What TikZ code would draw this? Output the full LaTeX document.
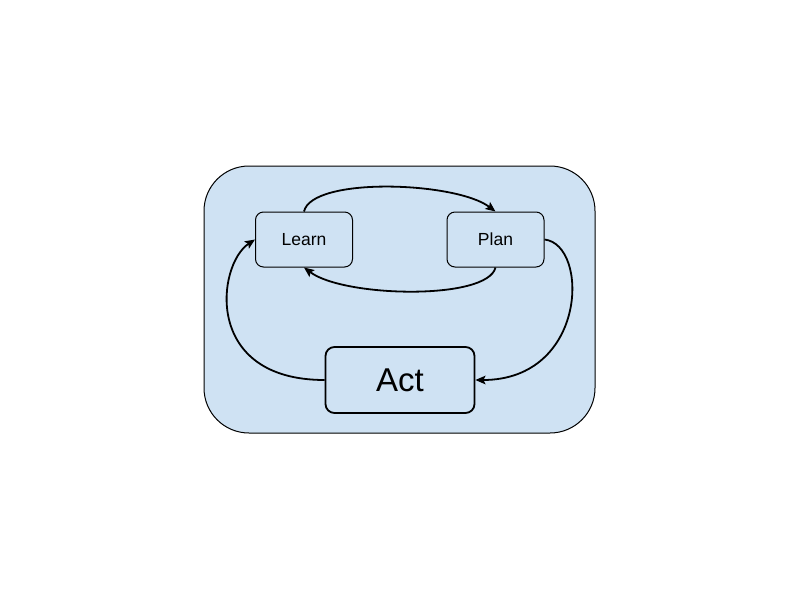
\documentclass[tikz,border=0pt]{standalone}
\usepackage{fontspec}
\setmainfont{Liberation Sans}
\usetikzlibrary{arrows.meta}
\definecolor{panelblue}{RGB}{207,226,243}
\begin{document}
\begin{tikzpicture}[x=1pt,y=-1pt,
  panel/.style={draw=black,fill=panelblue,line width=1pt,rounded corners=45pt,minimum width=391pt,minimum height=267pt,inner sep=0pt},
  smallbox/.style={draw=black,fill=panelblue,line width=1pt,rounded corners=8pt,minimum width=97pt,minimum height=55pt,inner sep=0pt,font=\fontsize{17.5}{20}\selectfont},
  bigbox/.style={draw=black,fill=panelblue,line width=1.8pt,rounded corners=9pt,minimum width=149pt,minimum height=66pt,inner sep=0pt,font=\fontsize{33}{36}\selectfont},
  flow/.style={line width=1.8pt,-{Stealth[length=10pt,width=8.5pt,inset=2pt]}}]
\useasboundingbox (0,0) rectangle (800,600);
\node[panel] (outer) at (399.5,299.5) {};
\node[smallbox] (learn) at (304,239.5) {Learn};
\node[smallbox] (plan) at (495.5,239.5) {Plan};
\node[bigbox] (act) at (400,380) {Act};
\draw[flow] (learn.north) .. controls +(8,-35) and +(-40,-30) .. (plan.north);
\draw[flow] (plan.south) .. controls +(-8,33) and +(40,30) .. (learn.south);
\draw[flow] (plan.east) .. controls +(45,5) and +(112,0) .. (act.east);
\draw[flow] (act.west) .. controls +(-122,0) and +(-38,25) .. (learn.west);
\end{tikzpicture}
\end{document}
